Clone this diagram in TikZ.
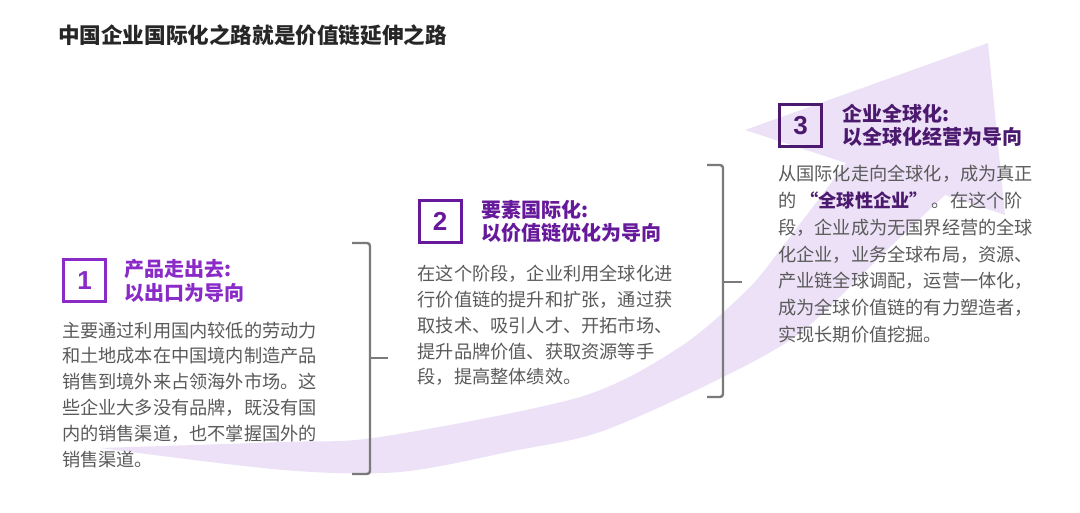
\documentclass[tikz,border=0pt]{standalone}
\usepackage{fontspec}
\setmainfont{Noto Sans CJK SC}
\newfontfamily\numfont{Liberation Sans}
\usetikzlibrary{positioning}

\definecolor{stageA}{HTML}{8A2BC8}
\definecolor{stageB}{HTML}{66199A}
\definecolor{stageC}{HTML}{4B1A6E}
\definecolor{bodygray}{HTML}{5A5A5A}
\definecolor{bracketgray}{HTML}{7A7A7A}
\definecolor{bandlilac}{HTML}{ECE1F7}

\begin{document}
\begin{tikzpicture}[
  x=1pt, y=-1pt,
  heading/.style={font=\bfseries\fontsize{21.6}{24}\selectfont, text=black!85, inner sep=0pt},
  numbox/.style={draw=#1, text=#1, line width=3pt, minimum size=42pt, inner sep=0pt,
                 font=\numfont\bfseries\fontsize{26}{26}\selectfont},
  stagetitle/.style={text=#1, font=\bfseries\fontsize{20}{23.5}\selectfont, align=left, inner sep=0pt},
  body/.style={text=bodygray, font=\fontsize{18.2}{25.8}\selectfont, align=left, inner sep=0pt},
  bracket/.style={draw=bracketgray, line width=2.4pt, rounded corners=3pt},
  band/.style={fill=bandlilac}
]
\useasboundingbox (0,0) rectangle (1080,513);

% rising arrow behind the stages
\fill[band] plot[smooth] coordinates {(100,448) (283,470) (400,472) (513,451) (600,432)
      (713,382) (800,333) (887,250) (945,195)}
  -- (1005,215) -- (988,43) -- (745,130) -- (846,163)
  -- plot[smooth] coordinates {(846,163) (780,250) (747,290) (680,347) (580,397)
      (380,437) (283,442) (100,448)} -- cycle;

\node[heading, anchor=west] (head) at (58,35) {中国企业国际化之路就是价值链延伸之路};

\node[numbox=stageA] (num1) at (84.5,281) {1};
\node[numbox=stageB] (num2) at (440,221.5) {2};
\node[numbox=stageC] (num3) at (800.5,125.5) {3};

\node[stagetitle=stageA, right=17pt of num1] (title1) {产品走出去:\\以出口为导向};
\node[stagetitle=stageB, right=19pt of num2] (title2) {要素国际化:\\以价值链优化为导向};
\node[stagetitle=stageC, right=19pt of num3] (title3) {企业全球化:\\以全球化经营为导向};

\node[body, below=18pt of num1.south west, anchor=north west] (body1)
  {主要通过利用国内较低的劳动力\\和土地成本在中国境内制造产品\\销售到境外来占领海外市场。这\\些企业大多没有品牌，既没有国\\内的销售渠道，也不掌握国外的\\销售渠道。};
\node[body, below=21pt of num2.south west, anchor=north west] (body2)
  {在这个阶段，企业利用全球化进\\行价值链的提升和扩张，通过获\\取技术、吸引人才、开拓市场、\\提升品牌价值、获取资源等手\\段，提高整体绩效。};
\node[body, font=\fontsize{18.2}{26.8}\selectfont, below=17pt of num3.south west, anchor=north west] (body3)
  {从国际化走向全球化，成为真正\\的 {\bfseries\color{stageC}“全球性企业”} 。在这个阶\\段，企业成为无国界经营的全球\\化企业，业务全球布局，资源、\\产业链全球调配，运营一体化，\\成为全球价值链的有力塑造者，\\实现长期价值挖掘。};

\draw[bracket] (352,243) -- (370,243) -- (370,474) -- (352,474);
\draw[bracket] (370,358) -- (388,358);
\draw[bracket] (707,165) -- (723,165) -- (723,397) -- (707,397);
\draw[bracket] (723,282) -- (742,282);

\end{tikzpicture}
\end{document}
